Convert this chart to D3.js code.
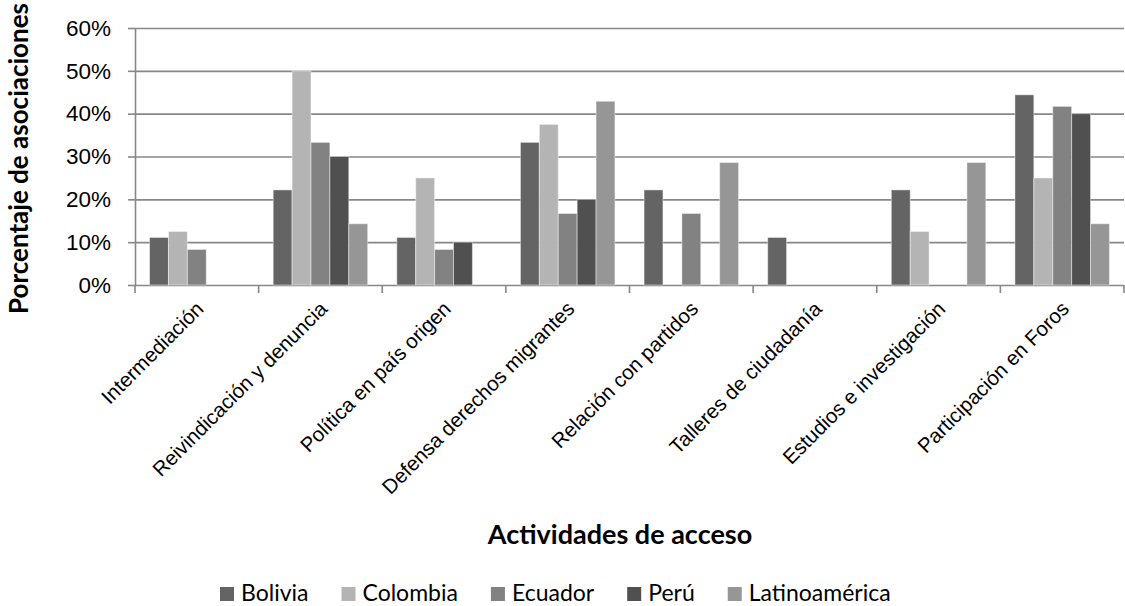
<!DOCTYPE html>
<html>
<head>
<meta charset="utf-8">
<script src="https://cdn.jsdelivr.net/npm/d3@7"></script>
<style>
  html, body { margin: 0; padding: 0; background: #fff; }
  svg { display: block; font-family: Lato, "Open Sans", sans-serif; }
</style>
</head>
<body>
<svg id="chart" width="1125" height="606"></svg>
<script>
// Categories (x axis) and series
const categories = [
  "Intermediación",
  "Reivindicación y denuncia",
  "Política en país origen",
  "Defensa derechos migrantes",
  "Relación con partidos",
  "Talleres de ciudadanía",
  "Estudios e investigación",
  "Participación en Foros"
];
const seriesNames = ["Bolivia", "Colombia", "Ecuador", "Perú", "Latinoamérica"];

// Share of associations per activity, one array per series
const bolivia  = [0.111, 0.222, 0.111, 0.333, 0.222, 0.111, 0.222, 0.444];
const colombia = [0.125, 0.500, 0.250, 0.375, 0.000, 0.000, 0.125, 0.250];
const ecuador  = [0.083, 0.333, 0.083, 0.167, 0.167, 0.000, 0.000, 0.417];
const peru     = [0.000, 0.300, 0.100, 0.200, 0.000, 0.000, 0.000, 0.400];
const latam    = [0.000, 0.143, 0.000, 0.429, 0.286, 0.000, 0.286, 0.143];

const yTicks = [0, 0.1, 0.2, 0.3, 0.4, 0.5, 0.6];
const seriesColors = ["#646464", "#b4b4b4", "#828282", "#505050", "#969696"];

const seriesValues = [bolivia, colombia, ecuador, peru, latam];

// Layout
const plotLeft = 135, plotRight = 1124, plotTop = 28, plotBottom = 285;
const gridColor = "#878787";

const svg = d3.select("#chart");

const x0 = d3.scaleBand().domain(categories).range([plotLeft, plotRight]).paddingInner(0).paddingOuter(0);
const x1 = d3.scaleBand().domain(seriesNames).range([0, x0.bandwidth()]).paddingInner(0).paddingOuter(0.77);
const y = d3.scaleLinear().domain([0, 0.6]).range([plotBottom, plotTop]);
const color = d3.scaleOrdinal().domain(seriesNames).range(seriesColors);

// Horizontal gridlines
const grid = svg.append("g")
  .attr("transform", `translate(${plotLeft},0)`)
  .call(d3.axisLeft(y).tickValues(yTicks).tickSize(-(plotRight - plotLeft)).tickFormat(""));
grid.select(".domain").remove();
grid.selectAll("line").attr("stroke", gridColor).attr("stroke-width", 1.6);

// Y axis with outward ticks and percent labels
const yAxis = svg.append("g")
  .attr("transform", `translate(${plotLeft},0)`)
  .call(d3.axisLeft(y).tickValues(yTicks).tickSize(7).tickSizeOuter(0).tickPadding(17).tickFormat(d3.format(".0%")));
yAxis.select(".domain").attr("stroke", gridColor).attr("stroke-width", 1.6);
yAxis.selectAll("line").attr("stroke", gridColor).attr("stroke-width", 1.6);
yAxis.selectAll("text").attr("font-size", 22.5).attr("fill", "#000");

// Bars
const barData = [];
categories.forEach((c, i) => {
  seriesNames.forEach((s, j) => {
    barData.push({ category: c, series: s, value: seriesValues[j][i] });
  });
});

svg.append("g")
  .selectAll("rect")
  .data(barData.filter(d => d.value > 0))
  .join("rect")
  .attr("x", d => x0(d.category) + x1(d.series))
  .attr("y", d => y(d.value))
  .attr("width", x1.bandwidth())
  .attr("height", d => y(0) - y(d.value))
  .attr("fill", d => color(d.series))
  .attr("stroke", "rgba(255,255,255,0.45)")
  .attr("stroke-width", 1);

// Category boundary ticks below the baseline
const boundaries = categories.map(c => x0(c)).concat([plotRight]);
svg.append("g")
  .selectAll("line")
  .data(boundaries)
  .join("line")
  .attr("x1", d => d).attr("x2", d => d)
  .attr("y1", plotBottom).attr("y2", plotBottom + 8)
  .attr("stroke", gridColor).attr("stroke-width", 1.6);

// Rotated category labels
const xAxis = svg.append("g")
  .attr("transform", `translate(0,${plotBottom})`)
  .call(d3.axisBottom(x0).tickSize(0).tickPadding(0));
xAxis.select(".domain").remove();
xAxis.selectAll(".tick text")
  .attr("font-size", 20.5)
  .attr("fill", "#000")
  .attr("text-anchor", "end")
  .attr("dy", "0.35em")
  .attr("transform", "translate(3,20) rotate(-45)");

// Axis titles
svg.append("text")
  .attr("transform", `translate(28,314) rotate(-90)`)
  .attr("text-anchor", "start")
  .attr("font-size", 26)
  .attr("font-weight", "bold")
  .attr("fill", "#000")
  .text("Porcentaje de asociaciones");

svg.append("text")
  .attr("x", 620)
  .attr("y", 544)
  .attr("text-anchor", "middle")
  .attr("font-size", 27)
  .attr("font-weight", "bold")
  .attr("fill", "#000")
  .text("Actividades de acceso");

// Legend
const legend = svg.append("g");
let lx = 220;
const sq = 14;
seriesNames.forEach(name => {
  const item = legend.append("g").attr("transform", `translate(${lx},0)`);
  item.append("rect")
    .attr("x", 0).attr("y", 587)
    .attr("width", sq).attr("height", sq)
    .attr("fill", color(name));
  const t = item.append("text")
    .attr("x", sq + 7).attr("y", 601)
    .attr("font-size", 23)
    .attr("fill", "#000")
    .text(name);
  lx += sq + 7 + t.node().getComputedTextLength() + 33;
});
</script>
</body>
</html>
